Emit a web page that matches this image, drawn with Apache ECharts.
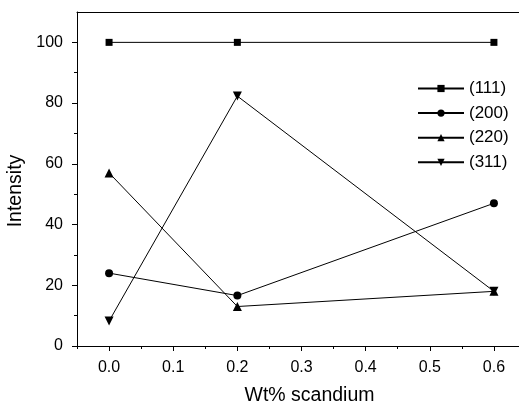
<!DOCTYPE html>
<html>
<head>
<meta charset="utf-8">
<script src="https://cdn.jsdelivr.net/npm/echarts@6/dist/echarts.min.js"></script>
<style>
  html, body { margin: 0; padding: 0; background: #fff; }
  #chart { width: 519px; height: 402px; }
</style>
</head>
<body>
<div id="chart"></div>
<script>
// Sc content (wt%) and relative peak intensities of each reflection
const scandium = [0.0, 0.2, 0.6];
const peak111 = [100, 100, 100];
const peak200 = [24, 16.6, 47];
const peak220 = [57, 13, 18];
const peak311 = [8.2, 82.3, 18];

const xMajorTicks = [0.0, 0.1, 0.2, 0.3, 0.4, 0.5, 0.6];
const xMinorTicks = [-0.05, 0.05, 0.15, 0.25, 0.35, 0.45, 0.55, 0.65];
const yMajorTicks = [0, 20, 40, 60, 80, 100];
const yMinorTicks = [10, 30, 50, 70, 90];

const FONT = 'Liberation Sans, Arial, sans-serif';

function pairs(ys) {
  return scandium.map((x, i) => [x, ys[i]]);
}

const lineStyle = { color: '#000', width: 1 };
const itemStyle = { color: '#000', borderWidth: 0 };

function makeSeries(name, ys, symbol, size, rotate) {
  return {
    name: name,
    type: 'line',
    data: pairs(ys),
    symbol: symbol,
    symbolSize: size,
    symbolRotate: rotate || 0,
    showAllSymbol: true,
    lineStyle: lineStyle,
    itemStyle: itemStyle,
    emphasis: { disabled: true },
    animation: false
  };
}

const X_RANGE = { min: -0.05, max: 0.65 };
const Y_RANGE = { min: 0, max: 110 };

const chart = echarts.init(document.getElementById('chart'), null, { renderer: 'canvas' });

chart.setOption({
  backgroundColor: '#fff',
  animation: false,
  grid: { left: 77, top: 12, width: 449, height: 334, containLabel: false, outerBoundsMode: 'none' },
  legend: {
    orient: 'vertical',
    left: 417,
    top: 80,
    padding: 0,
    itemWidth: 46,
    itemHeight: 9,
    itemGap: 7.6,
    textStyle: { fontFamily: FONT, fontSize: 17, color: '#000' },
    data: ['(111)', '(200)', '(220)', '(311)']
  },
  xAxis: [
    {
      type: 'value',
      position: 'bottom',
      min: X_RANGE.min,
      max: X_RANGE.max,
      name: 'Wt% scandium',
      nameLocation: 'middle',
      nameGap: 40,
      nameTextStyle: { fontFamily: FONT, fontSize: 19.5, color: '#000', padding: [0, 0, 0, 16] },
      axisLine: { show: true, onZero: false, lineStyle: { color: '#000', width: 1 } },
      axisTick: { show: true, inside: false, length: 5, customValues: xMajorTicks, lineStyle: { color: '#000' } },
      axisLabel: {
        show: true, margin: 14, customValues: xMajorTicks,
        fontFamily: FONT, fontSize: 16, color: '#000',
        formatter: v => v.toFixed(1)
      },
      splitLine: { show: false }
    },
    {
      type: 'value',
      position: 'bottom',
      min: X_RANGE.min,
      max: X_RANGE.max,
      axisLine: { show: false, onZero: false },
      axisTick: { show: true, inside: false, length: 3, customValues: xMinorTicks, lineStyle: { color: '#000' } },
      axisLabel: { show: false },
      splitLine: { show: false }
    },
    {
      type: 'value',
      position: 'top',
      min: X_RANGE.min,
      max: X_RANGE.max,
      axisLine: { show: true, onZero: false, lineStyle: { color: '#000', width: 1 } },
      axisTick: { show: false },
      axisLabel: { show: false },
      splitLine: { show: false }
    }
  ],
  yAxis: [
    {
      type: 'value',
      position: 'left',
      min: Y_RANGE.min,
      max: Y_RANGE.max,
      name: 'Intensity',
      nameLocation: 'middle',
      nameGap: 45,
      nameTextStyle: { fontFamily: FONT, fontSize: 19.5, color: '#000', padding: [0, 24, 0, 0] },
      axisLine: { show: true, onZero: false, lineStyle: { color: '#000', width: 1 } },
      axisTick: { show: true, inside: false, length: 5, customValues: yMajorTicks, lineStyle: { color: '#000' } },
      axisLabel: { margin: 14, customValues: yMajorTicks, fontFamily: FONT, fontSize: 16, color: '#000' },
      splitLine: { show: false }
    },
    {
      type: 'value',
      position: 'left',
      min: Y_RANGE.min,
      max: Y_RANGE.max,
      axisLine: { show: false, onZero: false },
      axisTick: { show: true, inside: false, length: 3, customValues: yMinorTicks, lineStyle: { color: '#000' } },
      axisLabel: { show: false },
      splitLine: { show: false }
    }
  ],
  series: [
    makeSeries('(111)', peak111, 'rect', 7),
    makeSeries('(200)', peak200, 'circle', 8),
    makeSeries('(220)', peak220, 'triangle', 9),
    makeSeries('(311)', peak311, 'triangle', 9, 180)
  ]
});
</script>
</body>
</html>
